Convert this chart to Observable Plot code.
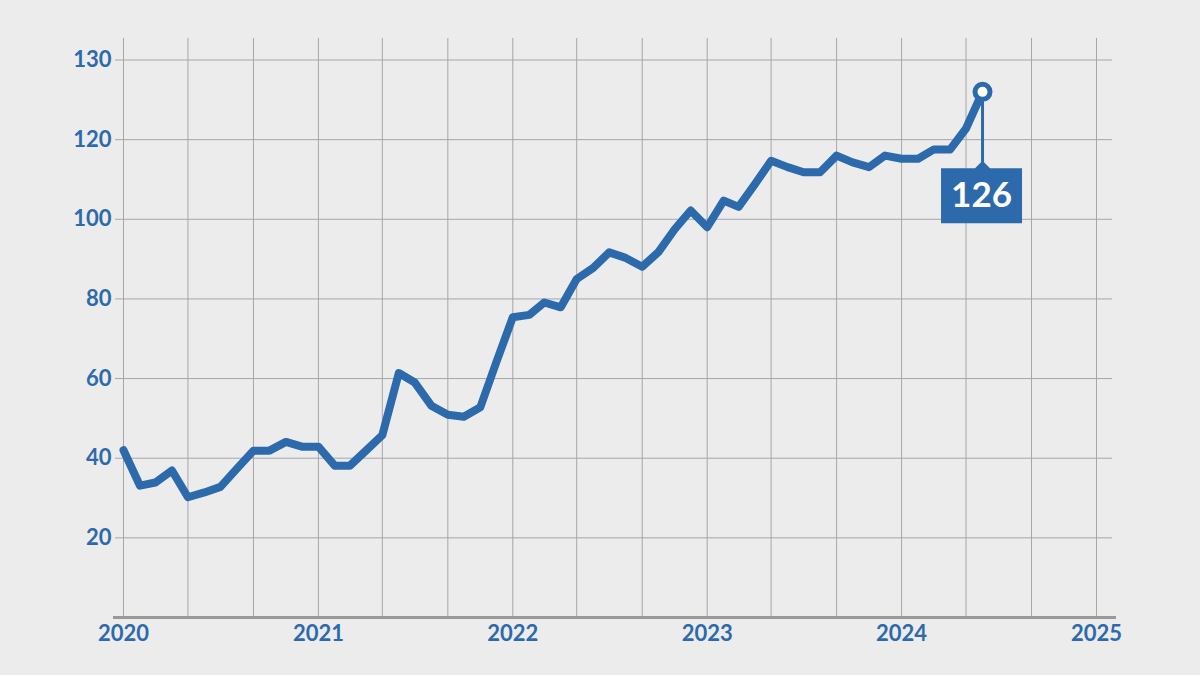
<!DOCTYPE html>
<html>
<head>
<meta charset="utf-8">
<script src="https://cdn.jsdelivr.net/npm/d3@7"></script>
<script src="https://cdn.jsdelivr.net/npm/@observablehq/plot@0.6"></script>
<style>
  html, body { margin: 0; padding: 0; background: #ececec; }
  #chart { width: 1200px; height: 675px; }
</style>
</head>
<body>
<div id="chart"></div>
<script>
// ---- data (monthly, Jan 2020 – Jun 2024) ----
const startYear = 2020;
const values = [
  42, 33.1, 33.9, 36.9, 30.2, 31.4, 32.8, 37.4, 41.9, 41.9, 44.1, 42.9,
  42.9, 38.1, 38.1, 42, 45.8, 61.4, 59.0, 53.2, 50.9, 50.4, 52.8, 64.1,
  75.4, 76.0, 79.1, 77.9, 85.0, 87.8, 91.7, 90.3, 88.1, 91.7, 97.5, 102.2,
  98.0, 104.7, 103.1, 108.9, 114.7, 113.1, 111.8, 111.8, 116.0, 114.3, 113.1, 116.0,
  115.2, 115.2, 117.5, 117.5, 121.4, 126
];
const yTicks = [20, 40, 60, 80, 100, 120, 130];
const yearTicks = [2020, 2021, 2022, 2023, 2024, 2025];
const calloutLabel = "126";

const data = values.map((v, i) => ({date: new Date(Date.UTC(startYear, i, 1)), value: v}));
const last = data[data.length - 1];
const xTickDates = yearTicks.map(y => new Date(Date.UTC(y, 0, 1)));
const gridDates = d3.utcMonth.every(4).range(xTickDates[0], d3.utcDay.offset(xTickDates[xTickDates.length - 1], 1));

const blue = "#2d6aab";
const gridColor = "#a6a6a6";

const W = 1200, H = 675;
const mTop = 38, mBottom = 58, mLeft = 115, mRight = 88;
const yBottom = H - mBottom;
const yTopTick = 59.5;
const step = (yBottom - yTopTick) / 7;

// callout shape (stem + notched box) drawn relative to the point
const callout = {
  draw(ctx) {
    ctx.moveTo(-1.5, 0);
    ctx.lineTo(1.5, 0);
    ctx.lineTo(1.5, 70.5);
    ctx.lineTo(7.5, 76.3);
    ctx.lineTo(39.5, 76.3);
    ctx.lineTo(39.5, 131.3);
    ctx.lineTo(-41.5, 131.3);
    ctx.lineTo(-41.5, 76.3);
    ctx.lineTo(-7.5, 76.3);
    ctx.lineTo(-1.5, 70.5);
    ctx.closePath();
  }
};

const chart = Plot.plot({
  width: W,
  height: H,
  marginTop: mTop,
  marginBottom: mBottom,
  marginLeft: mLeft,
  marginRight: mRight,
  style: {
    background: "#ececec",
    fontFamily: "Lato, 'Open Sans', sans-serif",
    fontSize: "22px",
    fontWeight: "bold",
    color: blue
  },
  x: {
    type: "utc",
    domain: [xTickDates[0], xTickDates[xTickDates.length - 1]],
    range: [123, 1096]
  },
  y: {
    type: "linear",
    domain: [0, 120, 130],
    range: [yBottom, yBottom - 6 * step, yBottom - 7 * step]
  },
  marks: [
    Plot.gridX(gridDates, {stroke: gridColor, strokeOpacity: 1, strokeWidth: 1}),
    Plot.gridY(yTicks, {stroke: gridColor, strokeOpacity: 1, strokeWidth: 1}),
    Plot.ruleY([0], {stroke: "#999999", strokeWidth: 3, insetLeft: -2, insetRight: -4}),
    Plot.axisY(yTicks, {tickSize: 0, tickPadding: 4, fill: blue, fontSize: 22, fontWeight: "bold", label: null}),
    Plot.axisX(xTickDates, {tickSize: 0, tickPadding: 8, fill: blue, fontSize: 22, fontWeight: "bold", label: null, tickFormat: d3.utcFormat("%Y")}),
    Plot.line(data, {x: "date", y: "value", stroke: blue, strokeWidth: 8, strokeLinejoin: "round", strokeLinecap: "round"}),
    Plot.dot([last], {x: "date", y: "value", symbol: callout, fill: blue, stroke: "none", r: 1}),
    Plot.dot([last], {x: "date", y: "value", r: 7.5, fill: "white", stroke: blue, strokeWidth: 5}),
    Plot.text([last], {x: "date", y: "value", text: () => calloutLabel, dy: 104, dx: -1, fill: "white", fontSize: 35, fontWeight: "bold"})
  ]
});

document.getElementById("chart").appendChild(chart);
</script>
</body>
</html>
